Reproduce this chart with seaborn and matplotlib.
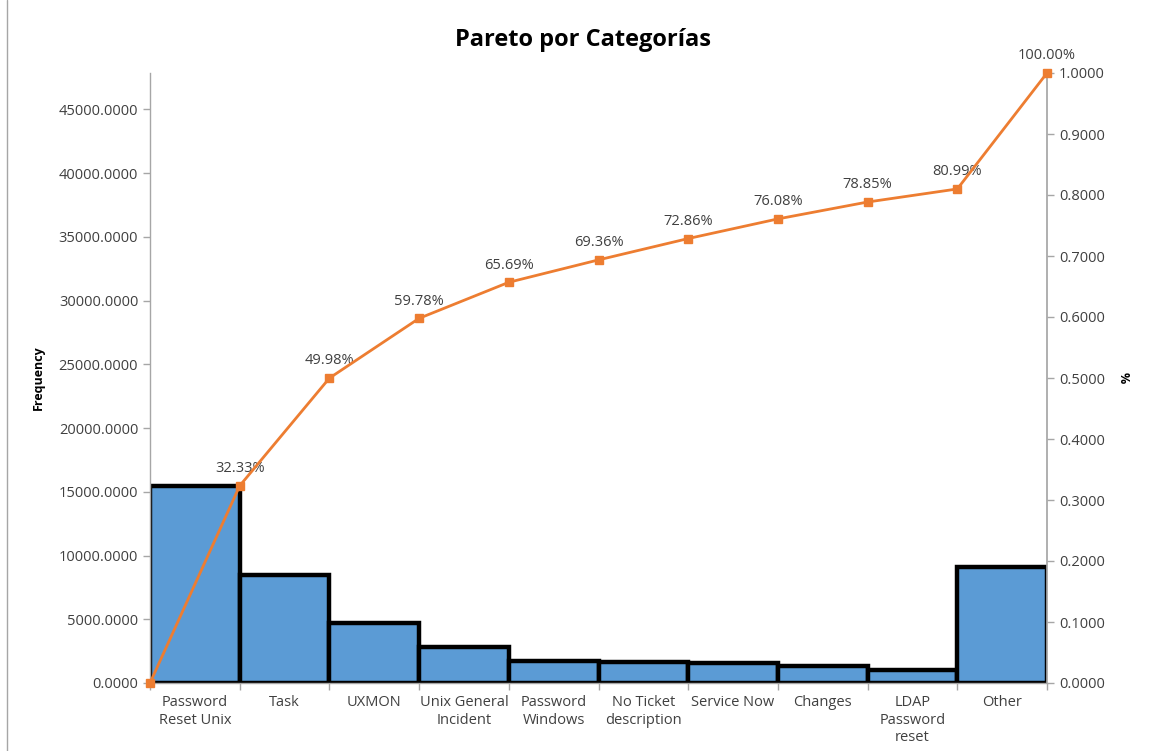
import numpy as np
import pandas as pd
import matplotlib
matplotlib.use("Agg")
import matplotlib.pyplot as plt
from matplotlib.lines import Line2D
from matplotlib.ticker import FormatStrFormatter, FixedLocator, NullFormatter
import seaborn as sns

categories = ["Password\nReset Unix", "Task", "UXMON", "Unix General\nIncident",
              "Password\nWindows", "No Ticket\ndescription", "Service Now",
              "Changes", "LDAP\nPassword\nreset", "Other"]
counts = [15470, 8446, 4689, 2828, 1756, 1675, 1541, 1325, 1024, 9096]

sns.set_theme(style="white")
plt.rcParams['font.family'] = ['Open Sans', 'DejaVu Sans']

total = float(np.sum(counts))
cum = np.concatenate([[0.0], np.cumsum(counts) / total])

df = pd.DataFrame({"cat": categories, "count": counts})

fig = plt.figure(figsize=(11.5, 7.51), dpi=100)
ax = fig.add_axes([150/1150, 1-683/751, (1047-150)/1150, (683-73)/751])

blue = "#5B9BD5"
orange = "#ED7D31"
grey = "#A6A6A6"
txt = "#404040"

sns.barplot(data=df, x="cat", y="count", ax=ax, color=blue, width=1.0,
            edgecolor="black", linewidth=3.2, saturation=1)
ax.set_xlim(-0.5, len(categories) - 0.5)
ax.set_ylim(0, total)
ax.set_yticks(np.arange(0, 45001, 5000))
ax.yaxis.set_major_formatter(FormatStrFormatter('%.4f'))
ax.set_xlabel("")
ax.set_ylabel("Frequency", fontsize=9, fontweight="bold", color="black", labelpad=10)

for s in ["top", "right"]:
    ax.spines[s].set_visible(False)
for s in ["left", "bottom"]:
    ax.spines[s].set_color(grey)
    ax.spines[s].set_linewidth(1)

ax.tick_params(axis="y", colors=txt, labelsize=10.5, length=5, color=grey, left=True, width=1)
ax.tick_params(axis="x", which="major", length=0, labelsize=10.5, labelcolor=txt, pad=9)
ax.xaxis.set_minor_locator(FixedLocator(np.arange(-0.5, len(categories), 1.0)))
ax.xaxis.set_minor_formatter(NullFormatter())
ax.tick_params(axis="x", which="minor", length=5, color=grey, width=1, bottom=True)
for lab in ax.get_xticklabels():
    lab.set_horizontalalignment("center")
    lab.set_verticalalignment("top")

ax2 = ax.twinx()
xpos = np.arange(-0.5, len(categories), 1.0)
ax2.plot(xpos, cum, color=orange, linewidth=2, marker="s", markersize=6,
         clip_on=False, zorder=5)
ax2.set_ylim(0, 1)
ax2.set_yticks(np.arange(0, 1.0001, 0.1))
ax2.yaxis.set_major_formatter(FormatStrFormatter('%.4f'))
ax2.tick_params(axis="y", colors=txt, labelsize=10.5, length=5, color=grey, right=True, width=1)
ax2.set_ylabel("%", fontsize=9, fontweight="bold", color="black", rotation=270, labelpad=18)
for s in ["top", "left", "bottom"]:
    ax2.spines[s].set_visible(False)
ax2.spines["right"].set_color(grey)

for x, y in zip(xpos[1:], cum[1:]):
    ax2.annotate(f"{y*100:.2f}%", (x, y), xytext=(0, 7), textcoords="offset points",
                 ha="center", va="bottom", fontsize=10.5, color=txt)

fig.text(583/1150, 1-40/751, "Pareto por Categorías", ha="center", va="center",
         fontsize=17, fontweight="bold", color="black")

fig.add_artist(Line2D([7/1150, 7/1150], [0, 1], color=grey, linewidth=1,
                      transform=fig.transFigure))

fig.savefig("out.png", dpi=100, facecolor="white")
